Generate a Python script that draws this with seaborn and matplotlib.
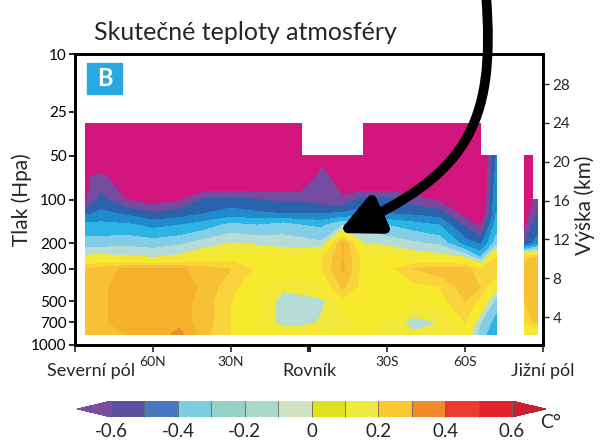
import numpy as np
import matplotlib
matplotlib.use("Agg")
import matplotlib.pyplot as plt
import seaborn as sns
from matplotlib.colors import ListedColormap, BoundaryNorm
from matplotlib.cm import ScalarMappable
from matplotlib.patches import FancyArrowPatch, Rectangle
from matplotlib.path import Path
from matplotlib.transforms import blended_transform_factory

# ---------- Data ----------
nan = np.nan
lats = [86, 80, 70, 60, 50, 40, 30, 20, 10, 3, -5, -13, -21, -30, -40, -50, -60, -66, -72, -78, -83, -86, -88]
pressure = [30, 50, 70, 100, 125, 150, 200, 250, 300, 400, 500, 700, 850]

# temperature trend (C) per pressure level, one value per latitude above
t030 = [-0.8, -0.8, -0.8, -0.8, -0.8, -0.8, -0.8, -0.8, -0.8, -0.8, nan, nan, -0.8, -0.8, -0.8, -0.8, -0.8, -0.8, nan, nan, nan, nan, nan]
t050 = [-0.75, -0.75, -0.78, -0.8, -0.8, -0.8, -0.8, -0.8, -0.8, -0.8, -0.65, -0.75, -0.8, -0.8, -0.8, -0.8, -0.8, -0.8, -0.4, nan, -0.7, -0.7, nan]
t070 = [-0.62, -0.56, -0.75, -0.78, -0.78, -0.78, -0.78, -0.78, -0.75, -0.75, -0.55, -0.7, -0.78, -0.78, -0.78, -0.8, -0.8, -0.8, -0.35, nan, -0.75, -0.75, nan]
t100 = [-0.63, -0.47, -0.61, -0.66, -0.62, -0.49, -0.47, -0.5, -0.52, -0.52, -0.56, -0.58, -0.47, -0.47, -0.55, -0.62, -0.75, -0.8, -0.3, nan, -0.72, -0.62, -0.55]
t125 = [-0.42, -0.37, -0.42, -0.48, -0.45, -0.4, -0.35, -0.38, -0.4, -0.4, -0.4, -0.38, -0.35, -0.4, -0.42, -0.45, -0.65, -0.75, -0.3, nan, -0.68, -0.55, -0.5]
t150 = [-0.27, -0.27, -0.28, -0.33, -0.3, -0.25, -0.17, -0.2, -0.15, -0.2, -0.22, -0.1, -0.15, -0.2, -0.25, -0.3, -0.52, -0.62, -0.25, nan, -0.64, -0.5, -0.45]
t200 = [-0.15, -0.15, -0.13, -0.15, -0.12, -0.05, 0.0, -0.02, -0.05, -0.05, -0.08, 0.42, 0.0, -0.03, -0.08, -0.12, -0.35, -0.42, -0.15, nan, -0.5, -0.4, -0.35]
t250 = [0.03, 0.04, 0.02, 0.0, 0.03, 0.1, 0.15, 0.15, 0.12, 0.1, 0.2, 0.4, 0.15, 0.15, 0.08, 0.05, 0.0, -0.2, 0.2, nan, 0.25, 0.3, 0.3]
t300 = [0.3, 0.35, 0.42, 0.42, 0.42, 0.35, 0.3, 0.18, 0.15, 0.15, 0.2, 0.42, 0.15, 0.15, 0.3, 0.35, 0.35, 0.2, 0.3, nan, 0.38, 0.4, 0.4]
t400 = [0.35, 0.38, 0.45, 0.45, 0.45, 0.38, 0.22, 0.15, 0.02, 0.05, 0.1, 0.32, 0.15, 0.15, 0.15, 0.2, 0.35, 0.3, 0.05, nan, 0.32, 0.4, 0.4]
t500 = [0.35, 0.38, 0.45, 0.45, 0.45, 0.35, 0.2, 0.12, -0.05, -0.05, -0.03, 0.15, 0.15, 0.15, 0.12, 0.15, 0.3, 0.15, -0.15, nan, 0.3, 0.38, 0.38]
t700 = [0.35, 0.38, 0.45, 0.45, 0.45, 0.35, 0.2, 0.12, -0.05, -0.05, 0.02, 0.05, 0.12, 0.1, -0.05, 0.0, 0.2, -0.1, -0.25, nan, 0.2, 0.3, 0.3]
t850 = [0.3, 0.32, 0.4, 0.4, 0.55, 0.32, 0.2, 0.15, 0.12, 0.12, 0.12, 0.1, 0.12, 0.05, 0.02, 0.05, 0.1, -0.15, -0.3, nan, 0.05, 0.0, 0.0]

levels = [-0.6, -0.5, -0.4, -0.3, -0.2, -0.1, 0.0, 0.1, 0.2, 0.3, 0.4, 0.5, 0.6]
field_colors = ["#744b9f", "#2a62ab", "#1f8bcc", "#2cb4e4", "#84cde6", "#b7dbd5",
                "#f2e83a", "#f7e92c", "#f9d43a", "#f8c035", "#f5b02c", "#e8902c"]
field_under, field_over = "#d2157f", "#c86a28"
bar_colors = ["#5a4fa3", "#4a78c0", "#7ccde0", "#96d3c6", "#a8d9c8", "#cfe3c4",
              "#dfe020", "#eeea40", "#fbc731", "#f08a2b", "#ea3b2e", "#e5202f"]
bar_under, bar_over = "#7b4fa0", "#c8202e"

p_ticks = [10, 25, 50, 100, 200, 300, 500, 700, 1000]
km_ticks = [4, 8, 12, 16, 20, 24, 28]
lat_ticks = [90, 60, 30, 0, -30, -60, -90]
lat_labels = ["Severní pól", "60N", "30N", "Rovník", "30S", "60S", "Jižní pól"]
cb_ticks = [-0.6, -0.4, -0.2, 0, 0.2, 0.4, 0.6]

# ---------- Style ----------
sns.set_theme(style="ticks")
plt.rcParams["font.family"] = ["Lato", "DejaVu Sans"]

W, H = 600, 443
fig = plt.figure(figsize=(W / 100, H / 100), dpi=100)
ax = fig.add_axes([75 / W, 1 - 345 / H, 468 / W, 291 / H])

Z = np.ma.masked_invalid(np.array([t030, t050, t070, t100, t125, t150, t200,
                                   t250, t300, t400, t500, t700, t850]))
cmap = ListedColormap(field_colors)
cmap.set_under(field_under); cmap.set_over(field_over)
norm = BoundaryNorm(levels, cmap.N)
ax.contourf(lats, pressure, Z, levels=levels, cmap=cmap, norm=norm,
            extend="both", corner_mask=False)

ax.set_yscale("log")
ax.set_ylim(1000, 10)
ax.set_xlim(90, -90)
ax.yaxis.set_minor_locator(matplotlib.ticker.NullLocator())
ax.set_yticks(p_ticks)
ax.set_yticklabels([str(v) for v in p_ticks])
ax.set_xticks(lat_ticks)
ax.set_xticklabels([])
ax.tick_params(axis="y", length=4, width=1.2, pad=2, labelsize=11, colors="black")
ax.tick_params(axis="x", length=5, width=1.2, pad=2)
ax.xaxis.get_major_ticks()[3].tick1line.set_markeredgewidth(3)
for s in ax.spines.values():
    s.set_linewidth(2); s.set_color("black")

ax2 = ax.twinx()
ax2.set_ylim(1.13, 31.1)
ax2.set_yticks(km_ticks)
ax2.tick_params(axis="y", length=4, width=1.0, pad=3, labelsize=11)
for s in ax2.spines.values():
    s.set_linewidth(2); s.set_color("black")

# x labels: poles / equator larger and lower
tr = blended_transform_factory(ax.transData, ax.transAxes)
for lat, lab in zip(lat_ticks, lat_labels):
    big = lab in ("Severní pól", "Rovník", "Jižní pól")
    x = 84 if lab == "Severní pól" else lat
    ax.text(x, -0.107 if big else -0.072, lab, transform=tr, ha="center",
            va="baseline", fontsize=13 if big else 10)

fig.text(22 / W, 1 - 200 / H, "Tlak (Hpa)", rotation=90, ha="center", va="center", fontsize=15)
fig.text(585 / W, 1 - 205 / H, "Výška (km)", rotation=90, ha="center", va="center", fontsize=15)
fig.text(94 / W, 1 - 40 / H, "Skutečné teploty atmosféry", ha="left", va="baseline", fontsize=18)

# panel letter
ax.add_patch(Rectangle((0.026, 0.862), 0.075, 0.107, transform=ax.transAxes,
                       color="#29a9e0", clip_on=False))
ax.text(0.0635, 0.915, "B", transform=ax.transAxes, ha="center", va="center",
        color="white", fontsize=17, fontweight="bold")

# colorbar
cax = fig.add_axes([77 / W, 1 - 417 / H, 469 / W, 16 / H])
bcmap = ListedColormap(bar_colors)
bcmap.set_under(bar_under); bcmap.set_over(bar_over)
sm = ScalarMappable(norm=BoundaryNorm(levels, bcmap.N), cmap=bcmap)
cb = fig.colorbar(sm, cax=cax, orientation="horizontal", extend="both",
                  extendfrac=0.085, drawedges=True, ticks=cb_ticks)
cb.dividers.set_color("#666666"); cb.dividers.set_linewidth(0.6)
cb.outline.set_linewidth(0)
cax.minorticks_off()
cax.set_xticklabels(["-0.6", "-0.4", "-0.2", "0", "0.2", "0.4", "0.6"])
cax.tick_params(which="both", length=0, pad=4, labelsize=13.5)
fig.text(551 / W, 1 - 423 / H, "C°", ha="center", va="center", fontsize=14)

# big curved arrow
pts = [(486, -5), (497, 130), (462, 176), (338, 233)]
verts = [(x / W, 1 - y / H) for x, y in pts]
arrow = FancyArrowPatch(path=Path(verts, [Path.MOVETO, Path.CURVE4, Path.CURVE4, Path.CURVE4]),
                        arrowstyle="-|>,head_length=2.4,head_width=1.15", mutation_scale=10,
                        lw=7, color="black", transform=fig.transFigure,
                        shrinkA=0, shrinkB=0)
fig.add_artist(arrow)

fig.savefig("out.png", dpi=100)
